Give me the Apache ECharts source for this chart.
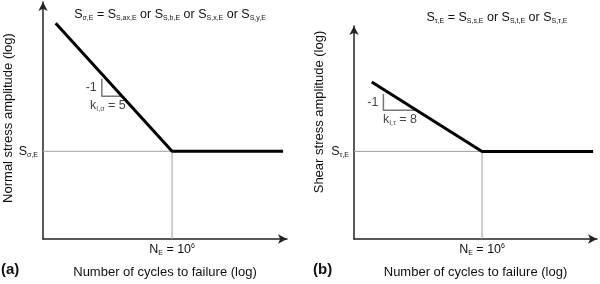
<!DOCTYPE html>
<html>
<head>
<meta charset="utf-8">
<script src="https://cdn.jsdelivr.net/npm/echarts@6/dist/echarts.min.js"></script>
<style>
  html, body { margin: 0; padding: 0; background: #fff; }
  #chart { width: 600px; height: 284px; }
</style>
</head>
<body>
<div id="chart"></div>
<script>
// schematic units: x = log N (0..100), y = log S (0..100)
const curveA = [[5.2, 91], [52.9, 37], [98.4, 37]];
const curveB = [[7.3, 66.3], [52.7, 37], [98.4, 37]];
const kneeA = [52.9, 37];
const kneeB = [52.7, 37];
// slope triangles (top of vertical leg, corner, end of horizontal leg)
const triA = [[24.1, 67.6], [24.1, 60.2], [32.4, 60.2]];
const triB = [[12.1, 61.3], [12.1, 54.4], [25.7, 54.4]];
const slopeText = ['-1', '-1'];
const kText = ['{m|k}{s|I,σ}{m| = 5}', '{m|k}{s|I,τ}{m| = 8}'];
const titleText = [
    '{m|S}{s|σ,E}{m| = S}{s|S,ax,E}{m| or S}{s|S,b,E}{m| or S}{s|S,x,E}{m| or S}{s|S,y,E}',
    '{m|S}{s|τ,E}{m| = S}{s|S,s,E}{m| or S}{s|S,t,E}{m| or S}{s|S,τ,E}'
];
const yNames = ['Normal stress amplitude (log)', 'Shear stress amplitude (log)'];
const yTickText = ['{m|S}{s|σ,E}', '{m|S}{s|τ,E}'];
const xTickText = '{m|N}{s|E}{m| = 10}{p|6}';
const xName = 'Number of cycles to failure (log)';
const panelTags = ['(a)', '(b)'];

const font = 'Liberation Sans, Arial, sans-serif';
const txt = '#111';
const rich = {
    m: {fontSize: 12.5, fontFamily: font, fontWeight: 'normal', color: txt, lineHeight: 14},
    s: {fontSize: 7, fontFamily: font, fontWeight: 'normal', color: txt, verticalAlign: 'bottom', lineHeight: 14},
    p: {fontSize: 7, fontFamily: font, fontWeight: 'normal', color: txt, verticalAlign: 'top', lineHeight: 14}
};

const chart = echarts.init(document.getElementById('chart'));

function axisLine() {
    return {
        show: true,
        symbol: ['none', 'arrow'],
        symbolSize: [7, 9],
        lineStyle: {color: '#222', width: 1.5}
    };
}

function noteLabel(text, extra) {
    return Object.assign({
        show: true, formatter: text, rich: rich,
        color: txt, textBorderWidth: 0, fontWeight: 'normal'
    }, extra);
}

function panelSeries(idx, curve, knee, tri) {
    const vMid = [tri[0][0], (tri[0][1] + tri[1][1]) / 2];
    const hMid = [(tri[1][0] + tri[2][0]) / 2, tri[1][1]];
    return [
        {
            type: 'line', xAxisIndex: idx, yAxisIndex: idx,
            data: [[0, knee[1]], knee, [knee[0], 0]],
            symbol: 'none', lineStyle: {color: '#a0a0a0', width: 1}, z: 1
        },
        {
            type: 'line', xAxisIndex: idx, yAxisIndex: idx,
            data: tri, symbol: 'none',
            lineStyle: {color: '#777', width: 1.5}, z: 2
        },
        {
            type: 'line', xAxisIndex: idx, yAxisIndex: idx,
            data: curve, symbol: 'none',
            lineStyle: {color: '#000', width: 3}, z: 3
        },
        {
            type: 'scatter', xAxisIndex: idx, yAxisIndex: idx,
            symbolSize: 0, z: 4, itemStyle: {color: txt},
            data: [
                {value: vMid, label: noteLabel('{m|' + slopeText[idx] + '}', {position: 'left', distance: 5})},
                {value: hMid, label: noteLabel(kText[idx], {position: 'bottom', distance: 2, offset: [idx === 0 ? -4 : 0, 0]})}
            ]
        }
    ];
}

const grids = [
    {left: 43, right: 313, top: 2, bottom: 44},
    {left: 354, right: 3, top: 26, bottom: 44}
];
const yMax = [100, 90];
const knees = [kneeA, kneeB];

const option = {
    animation: false,
    backgroundColor: '#fff',
    grid: grids,
    title: [
        {text: titleText[0], left: 165, top: 3, textAlign: 'center', textStyle: {fontWeight: 'normal', rich: rich}},
        {text: titleText[1], left: 492, top: 6, textAlign: 'center', textStyle: {fontWeight: 'normal', rich: rich}}
    ],
    xAxis: [0, 1].map(i => ({
        gridIndex: i, type: 'value', min: 0, max: 100,
        axisLine: axisLine(),
        axisTick: {show: false},
        splitLine: {show: false},
        axisLabel: {customValues: [knees[i][0]], formatter: () => xTickText, rich: rich, margin: 4},
        name: xName, nameLocation: 'middle', nameGap: 27,
        nameTextStyle: {fontSize: 13, fontFamily: font, color: txt}
    })),
    yAxis: [0, 1].map(i => ({
        gridIndex: i, type: 'value', min: 0, max: yMax[i],
        axisLine: axisLine(),
        axisTick: {show: false},
        splitLine: {show: false},
        axisLabel: {customValues: [knees[i][1]], formatter: () => yTickText[i], rich: rich, margin: 5}
    })),
    graphic: [
        {type: 'text', x: 8, y: 118, rotation: Math.PI / 2,
            style: {text: yNames[0], font: '13px ' + font, fill: txt, textAlign: 'center', textVerticalAlign: 'middle'}},
        {type: 'text', x: 319, y: 112, rotation: Math.PI / 2,
            style: {text: yNames[1], font: '13px ' + font, fill: txt, textAlign: 'center', textVerticalAlign: 'middle'}},
        {type: 'text', x: 1, y: 270,
            style: {text: panelTags[0], font: 'bold 15px ' + font, fill: txt, textAlign: 'left', textVerticalAlign: 'middle'}},
        {type: 'text', x: 313, y: 270,
            style: {text: panelTags[1], font: 'bold 15px ' + font, fill: txt, textAlign: 'left', textVerticalAlign: 'middle'}}
    ],
    series: [].concat(
        panelSeries(0, curveA, kneeA, triA),
        panelSeries(1, curveB, kneeB, triB)
    )
};

chart.setOption(option);
</script>
</body>
</html>
